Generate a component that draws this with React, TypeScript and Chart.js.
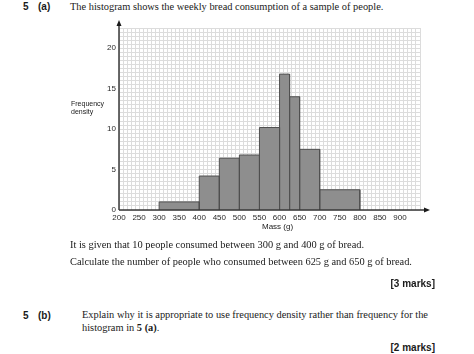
import React, { useEffect, useRef } from "react";
import { Chart, registerables } from "chart.js";

Chart.register(...registerables);

const binStarts = [300, 400, 450, 500, 550, 600, 625, 650, 700];
const binEnds = [400, 450, 500, 550, 600, 625, 650, 700, 800];
const densities = [1, 4.2, 6.4, 6.8, 10.2, 16.8, 14, 7.5, 2.5];

const xMin = 200;
const xMax = 950;
const yMin = 0;
const yMax = 22.5;
const xMajorStep = 50;
const xMinorStep = 10;
const yMajorStep = 2.5;
const yMinorStep = 0.5;
const xLabelMax = 900;
const yLabelStep = 5;

const serif = '"Liberation Serif", "Times New Roman", serif';
const sans = '"Liberation Sans", Arial, sans-serif';

const arrowPlugin = {
  id: "axisArrows",
  afterDatasetsDraw(chart: any) {
    const { ctx, scales } = chart;
    const x0 = scales.x.getPixelForValue(xMin);
    const y0 = scales.y.getPixelForValue(yMin);
    const top = chart.chartArea.top;
    const right = chart.chartArea.right;
    ctx.save();
    ctx.strokeStyle = "#3a3a3a";
    ctx.fillStyle = "#1a1a1a";
    ctx.lineWidth = 1.5;
    ctx.beginPath();
    ctx.moveTo(x0, y0);
    ctx.lineTo(x0, top - 5);
    ctx.moveTo(x0, y0);
    ctx.lineTo(right + 6, y0);
    ctx.stroke();
    ctx.beginPath();
    ctx.moveTo(x0, top - 8);
    ctx.lineTo(x0 - 2.5, top - 2);
    ctx.lineTo(x0 + 2.5, top - 2);
    ctx.closePath();
    ctx.fill();
    ctx.beginPath();
    ctx.moveTo(right + 10, y0);
    ctx.lineTo(right + 4, y0 - 2.5);
    ctx.lineTo(right + 4, y0 + 2.5);
    ctx.closePath();
    ctx.fill();
    ctx.restore();
  },
};

function HistogramChart() {
  const ref = useRef<HTMLCanvasElement | null>(null);
  useEffect(() => {
    if (!ref.current) return;
    const datasets = binStarts.map((lo, i) => ({
      data: [
        { x: lo, y: 0 },
        { x: lo, y: densities[i] },
        { x: binEnds[i], y: densities[i] },
        { x: binEnds[i], y: 0 },
      ],
      showLine: true,
      fill: "origin",
      backgroundColor: "#8e8e8e",
      borderColor: "#505050",
      borderWidth: 1,
      pointRadius: 0,
      tension: 0,
    }));
    const chart = new Chart(ref.current, {
      type: "scatter",
      data: { datasets: datasets as any },
      options: {
        animation: false,
        responsive: false,
        maintainAspectRatio: false,
        layout: { padding: { top: 18, right: 20, bottom: 0, left: 0 } },
        plugins: { legend: { display: false }, tooltip: { enabled: false } },
        scales: {
          x: {
            type: "linear",
            position: "bottom",
            min: xMin,
            max: xMax,
            z: -1,
            border: { display: false },
            grid: { color: "#b0b0b0", lineWidth: 1, drawTicks: false },
            ticks: {
              stepSize: xMajorStep,
              autoSkip: false,
              maxRotation: 0,
              padding: 3,
              color: "#2a2a2a",
              font: { family: sans, size: 8 },
              callback: (v: any) => (Number(v) <= xLabelMax ? String(v) : ""),
            },
            afterFit: (s: any) => {
              s.height = 30;
            },
          },
          x2: {
            type: "linear",
            position: "top",
            min: xMin,
            max: xMax,
            z: -2,
            border: { display: false },
            grid: { color: "#dcdcdc", lineWidth: 1, drawTicks: false },
            ticks: { stepSize: xMinorStep, display: false, autoSkip: false },
            afterFit: (s: any) => {
              s.height = 0;
            },
          },
          y: {
            type: "linear",
            position: "left",
            min: yMin,
            max: yMax,
            z: -1,
            border: { display: false },
            grid: { color: "#b0b0b0", lineWidth: 1, drawTicks: false },
            ticks: {
              stepSize: yMajorStep,
              autoSkip: false,
              padding: 3,
              color: "#2a2a2a",
              font: { family: sans, size: 8 },
              callback: (v: any) =>
                Math.abs(Number(v) / yLabelStep - Math.round(Number(v) / yLabelStep)) < 1e-6
                  ? String(v)
                  : "",
            },
            afterFit: (s: any) => {
              s.width = 59;
            },
          },
          y2: {
            type: "linear",
            position: "right",
            min: yMin,
            max: yMax,
            z: -2,
            border: { display: false },
            grid: { color: "#dcdcdc", lineWidth: 1, drawTicks: false },
            ticks: { stepSize: yMinorStep, display: false, autoSkip: false },
            afterFit: (s: any) => {
              s.width = 0;
            },
          },
        },
      },
      plugins: [arrowPlugin],
    });
    return () => chart.destroy();
  }, []);
  return (
    <canvas
      ref={ref}
      width={380}
      height={230}
      style={{ position: "absolute", left: 60, top: 10, width: 380, height: 230 }}
    />
  );
}

const T = (props: any) => (
  <div
    style={{
      position: "absolute",
      whiteSpace: "nowrap",
      lineHeight: 1,
      color: "#1a1a1a",
      ...props.style,
    }}
  >
    {props.children}
  </div>
);

const body = 10.4;

export default function App() {
  return (
    <div
      style={{
        position: "fixed",
        left: 0,
        top: 0,
        width: 474,
        height: 354,
        background: "#fff",
        overflow: "hidden",
      }}
    >
      <T style={{ left: 23, top: 2, fontFamily: sans, fontSize: 10, fontWeight: "bold" }}>5</T>
      <T style={{ left: 38, top: 2, fontFamily: sans, fontSize: 10, fontWeight: "bold" }}>(a)</T>
      <T style={{ left: 70, top: 2, fontFamily: serif, fontSize: body }}>
        The histogram shows the weekly bread consumption of a sample of people.
      </T>
      <HistogramChart />
      <T style={{ left: 71, top: 100, fontFamily: sans, fontSize: 7 }}>Frequency</T>
      <T style={{ left: 71, top: 108, fontFamily: sans, fontSize: 7 }}>density</T>
      <T style={{ left: 262, top: 223, fontFamily: sans, fontSize: 8 }}>Mass (g)</T>
      <T style={{ left: 70, top: 240, fontFamily: serif, fontSize: body }}>
        It is given that 10 people consumed between 300 g and 400 g of bread.
      </T>
      <T style={{ left: 70, top: 257, fontFamily: serif, fontSize: body }}>
        Calculate the number of people who consumed between 625 g and 650 g of bread.
      </T>
      <T style={{ right: 39, top: 279, fontFamily: sans, fontSize: 10, fontWeight: "bold" }}>
        [3 marks]
      </T>
      <T style={{ left: 23, top: 311, fontFamily: sans, fontSize: 10, fontWeight: "bold" }}>5</T>
      <T style={{ left: 38, top: 311, fontFamily: sans, fontSize: 10, fontWeight: "bold" }}>(b)</T>
      <T style={{ left: 82, top: 310, fontFamily: serif, fontSize: body }}>
        Explain why it is appropriate to use frequency density rather than frequency for the
      </T>
      <T style={{ left: 82, top: 323, fontFamily: serif, fontSize: body }}>
        histogram in <b>5 (a)</b>.
      </T>
      <T style={{ right: 39, top: 343, fontFamily: sans, fontSize: 10, fontWeight: "bold" }}>
        [2 marks]
      </T>
    </div>
  );
}
